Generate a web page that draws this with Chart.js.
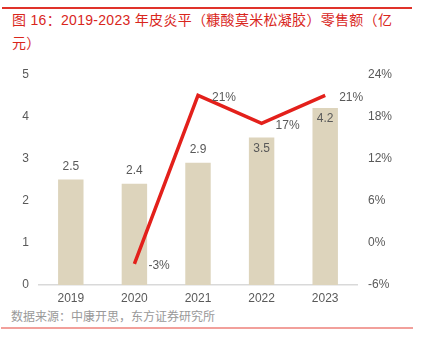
<!DOCTYPE html>
<html>
<head>
<meta charset="utf-8">
<script src="https://cdn.jsdelivr.net/npm/chart.js@4"></script>
<style>
  body { margin: 0; width: 424px; height: 354px; background: #fff; position: relative; overflow: hidden; }
  .rule-top { position: absolute; left: 2px; top: 7px; width: 410px; height: 2px; background: #e0322a; }
  .title { position: absolute; left: 12px; top: 9px; width: 410px; font: 14px "Liberation Sans", "Noto Sans CJK SC", sans-serif; letter-spacing: 0.3px; line-height: 23px; color: #d9261c; }
  .source { position: absolute; left: 11px; top: 308px; font: 12px "Noto Sans CJK SC", sans-serif; line-height: 16px; color: #999; }
  .rule-bottom { position: absolute; left: 1px; top: 327px; width: 412px; height: 2px; background: #f2a09b; }
  #wrap { position: absolute; left: 0; top: 56px; width: 424px; height: 249px; }
</style>
</head>
<body>
<div class="rule-top"></div>
<div class="title">图 16：2019-2023 年皮炎平（糠酸莫米松凝胶）零售额（亿<br>元）</div>
<div id="wrap"><canvas id="chart"></canvas></div>
<div class="source">数据来源：中康开思，东方证券研究所</div>
<div class="rule-bottom"></div>
<script>
const years = ['2019', '2020', '2021', '2022', '2023'];
const sales = [2.5, 2.4, 2.9, 3.5, 4.2];          // 零售额（亿元）
const growth = [null, -3, 21, 17, 21];            // 同比增速 %
const leftTicks = [0, 1, 2, 3, 4, 5];
const rightTicks = [-6, 0, 6, 12, 18, 24];

const labelFont = '12px "Liberation Sans", Arial, sans-serif';
const textColor = '#595959';

// value labels: bars above (or just inside the top), line to the right of points
const valueLabels = {
  id: 'valueLabels',
  afterDatasetsDraw(chart) {
    const ctx = chart.ctx;
    ctx.save();
    ctx.font = labelFont;
    ctx.fillStyle = textColor;
    ctx.textBaseline = 'middle';

    const inside = [false, false, false, true, true];
    chart.getDatasetMeta(1).data.forEach((bar, i) => {
      ctx.textAlign = 'center';
      const y = inside[i] ? bar.y + 11 : bar.y - 13;
      ctx.fillText(sales[i].toFixed(1), bar.x, y);
    });

    chart.getDatasetMeta(0).data.forEach((pt, i) => {
      if (growth[i] === null) return;
      ctx.textAlign = 'left';
      ctx.fillText(growth[i] + '%', pt.x + 14, pt.y + 2);
    });
    ctx.restore();
  }
};

const ctx = document.getElementById('chart').getContext('2d');
new Chart(ctx, {
  data: {
    labels: years,
    datasets: [
      {
        type: 'line',
        label: '增速',
        data: growth,
        yAxisID: 'y1',
        borderColor: '#e3201b',
        borderWidth: 3.5,
        pointRadius: 0,
        tension: 0,
        order: 0
      },
      {
        type: 'bar',
        label: '零售额',
        data: sales,
        yAxisID: 'y',
        backgroundColor: '#ddd4bc',
        barPercentage: 0.4,
        categoryPercentage: 1,
        order: 1
      }
    ]
  },
  options: {
    responsive: true,
    maintainAspectRatio: false,
    animation: false,
    layout: { padding: { top: 9, left: 0, right: 0, bottom: 0 } },
    plugins: {
      legend: { display: false },
      tooltip: { enabled: false }
    },
    scales: {
      x: {
        grid: { display: false, drawTicks: false },
        border: { color: '#d9d9d9', width: 1.5 },
        ticks: { color: textColor, font: { family: '"Liberation Sans", Arial, sans-serif', size: 12 }, padding: 6 },
        afterFit(scale) { scale.height = 20; }
      },
      y: {
        position: 'left',
        min: 0,
        max: 5,
        afterBuildTicks(scale) { scale.ticks = leftTicks.map(v => ({ value: v })); },
        grid: { display: false, drawTicks: false },
        border: { display: false },
        ticks: { color: textColor, font: { family: '"Liberation Sans", Arial, sans-serif', size: 12 }, padding: 10 },
        afterFit(scale) { scale.width = 39; }
      },
      y1: {
        position: 'right',
        min: -6,
        max: 24,
        afterBuildTicks(scale) { scale.ticks = rightTicks.map(v => ({ value: v })); },
        grid: { display: false, drawTicks: false },
        border: { display: false },
        ticks: {
          color: textColor,
          font: { family: '"Liberation Sans", Arial, sans-serif', size: 12 },
          padding: 11,
          callback: v => v + '%'
        },
        afterFit(scale) { scale.width = 67; }
      }
    }
  },
  plugins: [valueLabels]
});
</script>
</body>
</html>
